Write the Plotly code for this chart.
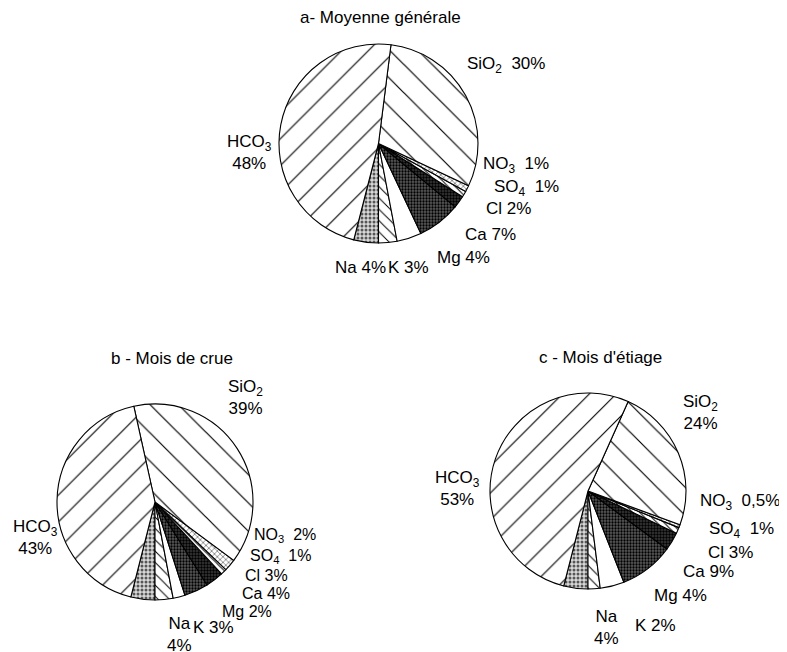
import plotly.graph_objects as go

# ---- data ----
ions = ["Na", "K", "Mg", "Ca", "Cl", "SO4", "NO3", "SiO2", "HCO3"]
ion_labels = ["Na", "K", "Mg", "Ca", "Cl", "SO<sub>4</sub>", "NO<sub>3</sub>", "SiO<sub>2</sub>", "HCO<sub>3</sub>"]
vals_a = [4, 3, 4, 7, 2, 1, 1, 30, 48]
vals_b = [4, 3, 2, 4, 3, 1, 2, 39, 43]
vals_c = [4, 2, 4, 9, 3, 1, 0.5, 24, 53]
titles = ["a- Moyenne générale", "b - Mois de crue", "c - Mois d'étiage"]

# ---- styles (per ion) ----
pat_shape = [".", "\\", "", ".", ".", "\\", "x", "\\", "/"]
pat_fg = ["#555555", "#000000", "#000000", "#000000", "#000000", "#000000", "#000000", "#000000", "#000000"]
pat_bg = ["#d8d8d8", "#ffffff", "#ffffff", "#5a5a5a", "#3a3a3a", "#ffffff", "#ffffff", "#ffffff", "#ffffff"]
pat_size = [4, 8, 8, 3, 3, 5, 4, 20, 19]
pat_sol = [0.45, 0.12, 0.1, 0.45, 0.5, 0.2, 0.2, 0.06, 0.06]

W, H = 787, 652
OFF = 8  # page body margin
FONT = "Liberation Sans, Arial, Helvetica, sans-serif"

def px(x, y):
    return (x - OFF) / W, 1 - (y - OFF) / H

# pie domains in pixels (x0, x1, y0, y1)
doms = [(278, 479, 44, 243), (57, 253, 404, 600), (490, 686, 393, 589)]

fig = go.Figure()
for vals, (x0, x1, y0, y1) in zip([vals_a, vals_b, vals_c], doms):
    dx0, dy1 = px(x0, y0)
    dx1, dy0 = px(x1, y1)
    fig.add_trace(go.Pie(
        labels=ions, values=vals, sort=False, direction="counterclockwise",
        rotation=180, textinfo="none", hoverinfo="label+percent",
        domain=dict(x=[dx0, dx1], y=[dy0, dy1]),
        marker=dict(colors=pat_bg, line=dict(color="black", width=1.1),
                    pattern=dict(shape=pat_shape, fgcolor=pat_fg, bgcolor=pat_bg,
                                 size=pat_size, solidity=pat_sol, fillmode="replace")),
        showlegend=False,
    ))

def fmt(v):
    s = ("%g" % v).replace(".", ",")
    return s + "%"

# label positions: (ion index, x, y, anchor, two-line, font size)
label_pos = [
    [(7, 465, 65, "left", False, 17), (8, 250, 153, "center", True, 17), (6, 481, 165, "left", False, 17),
     (5, 492, 188, "left", False, 17), (4, 484, 208, "left", False, 17), (3, 463, 234, "left", False, 17),
     (2, 435, 257, "left", False, 17), (0, 333, 268, "left", False, 17), (1, 386, 268, "left", False, 17)],
    [(7, 245, 397, "center", True, 17), (8, 35, 537, "center", True, 17), (6, 252, 535, "left", False, 16),
     (5, 248, 556, "left", False, 16), (4, 243, 575, "left", False, 16), (3, 240, 593, "left", False, 16),
     (2, 220, 611, "left", False, 16), (0, 179, 634, "center", True, 17), (1, 191, 627, "left", False, 17)],
    [(7, 700, 412, "center", True, 17), (8, 457, 488, "center", True, 17), (6, 698, 502, "left", False, 17),
     (5, 707, 530, "left", False, 17), (4, 706, 552, "left", False, 17), (3, 681, 571, "left", False, 17),
     (2, 652, 595, "left", False, 17), (0, 606, 627, "center", True, 17), (1, 633, 625, "left", False, 17)],
]

for vals, poslist in zip([vals_a, vals_b, vals_c], label_pos):
    for i, x, y, anc, two, fs in poslist:
        sep = "<br>" if two else " "
        if ions[i] in ("SO4", "NO3", "SiO2") and not two:
            sep = "  "
        txt = ion_labels[i] + sep + fmt(vals[i])
        ax, ay = px(x, y)
        fig.add_annotation(x=ax, y=ay, xref="paper", yref="paper", text=txt,
                           showarrow=False, xanchor=anc, yanchor="middle", align="center",
                           font=dict(family=FONT, size=fs, color="black"))

title_pos = [(380, 17), (172, 358), (600, 357)]
for t, (x, y) in zip(titles, title_pos):
    ax, ay = px(x, y)
    fig.add_annotation(x=ax, y=ay, xref="paper", yref="paper", text=t, showarrow=False,
                       xanchor="center", yanchor="middle",
                       font=dict(family=FONT, size=17, color="black"))

fig.update_layout(width=W, height=H, margin=dict(l=0, r=0, t=0, b=0),
                  paper_bgcolor="white", plot_bgcolor="white")
fig.write_html("out.html")
